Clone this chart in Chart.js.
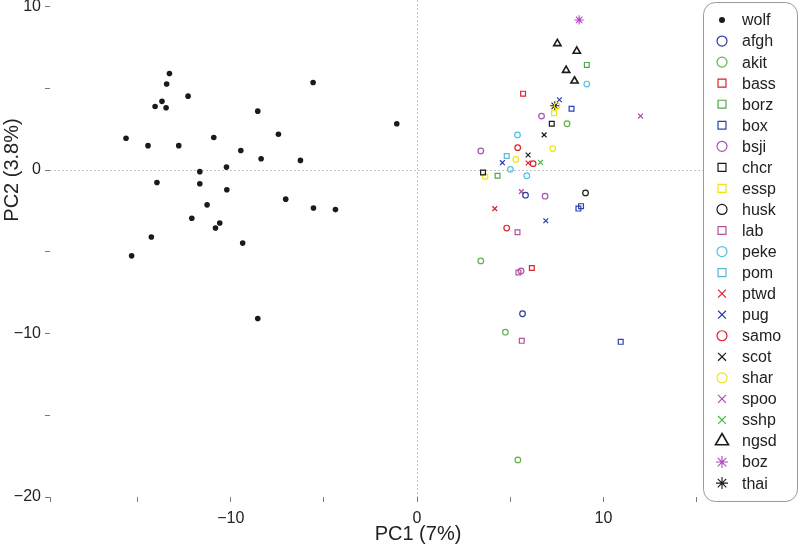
<!DOCTYPE html>
<html>
<head>
<meta charset="utf-8">
<script src="https://cdn.jsdelivr.net/npm/chart.js@4.4.0/dist/chart.umd.min.js"></script>
<style>
    html, body { margin: 0; padding: 0; background: #ffffff; }
</style>
</head>
<body>
<canvas id="pcaChart" width="800" height="546"></canvas>
<script>
// legend order
const breeds = ['wolf', 'afgh', 'akit', 'bass', 'borz', 'box', 'bsji', 'chcr', 'essp', 'husk', 'lab',
    'peke', 'pom', 'ptwd', 'pug', 'samo', 'scot', 'shar', 'spoo', 'sshp', 'ngsd', 'boz', 'thai'];

// [PC1, PC2] per individual
const wolf = [
    [-13.29, 5.90], [-13.44, 5.26], [-12.29, 4.52], [-13.69, 4.20], [-14.06, 3.89], [-13.47, 3.81],
    [-5.58, 5.35], [-8.55, 3.60], [-1.09, 2.83], [-15.62, 1.94], [-14.44, 1.49], [-12.79, 1.49],
    [-10.91, 1.99], [-7.44, 2.19], [-9.46, 1.19], [-8.37, 0.69], [-6.26, 0.59], [-10.23, 0.18],
    [-11.66, -0.10], [-13.96, -0.76], [-11.66, -0.84], [-10.21, -1.21], [-7.05, -1.78], [-5.56, -2.32],
    [-4.38, -2.42], [-11.27, -2.13], [-12.09, -2.95], [-10.59, -3.24], [-10.82, -3.55], [-14.26, -4.10],
    [-9.36, -4.47], [-15.32, -5.25], [-8.55, -9.08]
];
const afgh = [[5.82, -1.54], [5.66, -8.79]];
const akit = [[8.05, 2.83], [3.42, -5.56], [4.74, -9.92], [5.41, -17.73]];
const bass = [[5.69, 4.67], [6.16, -5.99]];
const borz = [[9.11, 6.43], [4.32, -0.35]];
const box = [[8.29, 3.75], [8.80, -2.21], [8.66, -2.36], [10.93, -10.51]];
const bsji = [[6.68, 3.30], [3.42, 1.17], [6.87, -1.60], [5.58, -6.17]];
const chcr = [[7.23, 2.83], [3.54, -0.15]];
const essp = [[7.35, 3.48]];
const husk = [[9.04, -1.40]];
const lab = [[5.39, -3.81], [5.44, -6.27], [5.62, -10.45]];
const peke = [[9.11, 5.26], [5.39, 2.15], [5.01, 0.04], [5.89, -0.35]];
const pom = [[4.81, 0.86]];
const ptwd = [[5.96, 0.43], [4.17, -2.36]];
const pug = [[7.64, 4.30], [4.58, 0.45], [6.91, -3.10]];
const samo = [[5.40, 1.37], [6.23, 0.39], [4.81, -3.55]];
const scot = [[6.82, 2.15], [5.96, 0.92]];
const shar = [[7.51, 3.93], [7.28, 1.31], [5.30, 0.65], [3.65, -0.39]];
const spoo = [[11.99, 3.30], [5.60, -1.32]];
const sshp = [[6.62, 0.47]];
const ngsd = [[7.53, 7.74], [8.57, 7.27], [8.00, 6.10], [8.45, 5.45]];
const boz = [[8.70, 9.18]];
const thai = [[7.39, 3.93]];

const xTickStep = 5;
const yTickStep = 5;

const points = { wolf, afgh, akit, bass, borz, box, bsji, chcr, essp, husk, lab, peke, pom,
    ptwd, pug, samo, scot, shar, spoo, sshp, ngsd, boz, thai };

// marker shape + colour per breed
const markers = {
    wolf: ['dot', '#1a1a1a'],
    afgh: ['circle', '#2b3c9c'],
    akit: ['circle', '#5cb24a'],
    bass: ['rect', '#e0202c'],
    borz: ['rect', '#4ea84a'],
    box: ['rect', '#2a44b0'],
    bsji: ['circle', '#a852b0'],
    chcr: ['rect', '#1a1a1a'],
    essp: ['rect', '#f0e410'],
    husk: ['circle', '#1a1a1a'],
    lab: ['rect', '#b0549e'],
    peke: ['circle', '#4ec2e6'],
    pom: ['rect', '#5ab8d0'],
    ptwd: ['crossRot', '#e0202c'],
    pug: ['crossRot', '#2a3aa8'],
    samo: ['circle', '#e0202c'],
    scot: ['crossRot', '#1a1a1a'],
    shar: ['circle', '#f0e410'],
    spoo: ['crossRot', '#b04aa8'],
    sshp: ['crossRot', '#4cb848'],
    ngsd: ['triangle', '#1a1a1a'],
    boz: ['star', '#b444c0'],
    thai: ['star', '#1a1a1a']
};

// [plot radius, legend radius, line width]
const markerSize = {
    dot: [2.8, 3, 0],
    circle: [2.8, 5, 1.2],
    rect: [3.4, 5.6, 1.2],
    crossRot: [3.4, 5.6, 1.2],
    triangle: [4.2, 7.5, 1.6],
    star: [4.6, 6, 1.1]
};

const fontFamily = "'Liberation Sans', Arial, Helvetica, sans-serif";
const textColor = '#222222';

const formatTick = function (v) {
    if (v % 10 !== 0) {
        return '';
    }
    return v < 0 ? '\u2212' + Math.abs(v) : String(v);
};

const zeroLinesPlugin = {
    id: 'zeroLines',
    beforeDatasetsDraw: function (chart) {
        const ctx = chart.ctx;
        const area = chart.chartArea;
        const x0 = Math.round(chart.scales.x.getPixelForValue(0)) + 0.5;
        const y0 = Math.round(chart.scales.y.getPixelForValue(0)) + 0.5;
        ctx.save();
        ctx.strokeStyle = '#c4c4c4';
        ctx.lineWidth = 1;
        ctx.setLineDash([2, 2]);
        ctx.beginPath();
        ctx.moveTo(x0, area.top);
        ctx.lineTo(x0, area.bottom);
        ctx.moveTo(area.left, y0);
        ctx.lineTo(area.right, y0);
        ctx.stroke();
        ctx.restore();
    }
};

const axisTitlesPlugin = {
    id: 'axisTitles',
    afterDraw: function (chart) {
        const ctx = chart.ctx;
        ctx.save();
        ctx.fillStyle = textColor;
        ctx.font = '20px ' + fontFamily;
        ctx.textAlign = 'center';
        ctx.textBaseline = 'middle';
        ctx.fillText('PC1 (7%)', (chart.chartArea.left + chart.chartArea.right) / 2, 534);
        ctx.translate(12, chart.scales.y.getPixelForValue(0));
        ctx.rotate(-Math.PI / 2);
        ctx.fillText('PC2 (3.8%)', 0, 0);
        ctx.restore();
    }
};

const breedLegendPlugin = {
    id: 'breedLegend',
    afterDraw: function (chart) {
        const ctx = chart.ctx;
        const left = 703.5, top = 2.5, width = 94, height = 499, radius = 12;
        ctx.save();
        ctx.beginPath();
        ctx.roundRect(left, top, width, height, radius);
        ctx.fillStyle = '#ffffff';
        ctx.fill();
        ctx.strokeStyle = '#9a9a9a';
        ctx.lineWidth = 1;
        ctx.stroke();

        ctx.font = '16px ' + fontFamily;
        ctx.textBaseline = 'middle';
        ctx.textAlign = 'left';
        breeds.forEach(function (name, i) {
            const y = 20 + i * 21.05;
            const shape = markers[name][0];
            const color = markers[name][1];
            const size = markerSize[shape];
            ctx.strokeStyle = color;
            ctx.fillStyle = shape === 'dot' ? color : 'rgba(0,0,0,0)';
            ctx.lineWidth = size[2];
            Chart.helpers.drawPoint(ctx, {
                pointStyle: shape === 'dot' ? 'circle' : shape,
                rotation: 0,
                radius: size[1],
                borderWidth: size[2]
            }, 722, y);
            ctx.fillStyle = textColor;
            ctx.fillText(name, 742, y + 1);
        });
        ctx.restore();
    }
};

const datasets = breeds.map(function (name) {
    const shape = markers[name][0];
    const color = markers[name][1];
    const size = markerSize[shape];
    return {
        label: name,
        data: points[name].map(function (p) { return { x: p[0], y: p[1] }; }),
        pointStyle: shape === 'dot' ? 'circle' : shape,
        pointRadius: size[0],
        pointHoverRadius: size[0],
        pointBorderWidth: size[2],
        pointBorderColor: color,
        pointBackgroundColor: shape === 'dot' ? color : 'rgba(0,0,0,0)',
        showLine: false
    };
});

new Chart(document.getElementById('pcaChart'), {
    type: 'scatter',
    data: { datasets: datasets },
    options: {
        responsive: false,
        animation: false,
        layout: { autoPadding: false, padding: { left: 0, top: 0, right: 14, bottom: 0 } },
        plugins: {
            legend: { display: false },
            tooltip: { enabled: false }
        },
        scales: {
            x: {
                type: 'linear',
                min: -19.7,
                max: 19.8,
                border: { display: false },
                grid: { drawOnChartArea: false, drawTicks: true, tickLength: 5, color: '#7a7a7a' },
                ticks: {
                    stepSize: xTickStep,
                    includeBounds: true,
                    autoSkip: false,
                    maxRotation: 0,
                    padding: 7,
                    color: textColor,
                    font: { family: fontFamily, size: 16 },
                    callback: formatTick
                },
                afterFit: function (scale) {
                    scale.height = 49;
                    scale.paddingLeft = 0;
                    scale.paddingRight = 0;
                }
            },
            y: {
                type: 'linear',
                min: -20,
                max: 10.4,
                border: { display: false },
                grid: { drawOnChartArea: false, drawTicks: true, tickLength: 5, color: '#7a7a7a' },
                ticks: {
                    stepSize: yTickStep,
                    includeBounds: false,
                    autoSkip: false,
                    padding: 4,
                    color: textColor,
                    font: { family: fontFamily, size: 16 },
                    callback: formatTick
                },
                afterFit: function (scale) {
                    scale.width = 50;
                    scale.paddingTop = 0;
                    scale.paddingBottom = 0;
                }
            }
        }
    },
    plugins: [zeroLinesPlugin, axisTitlesPlugin, breedLegendPlugin]
});
</script>
</body>
</html>
